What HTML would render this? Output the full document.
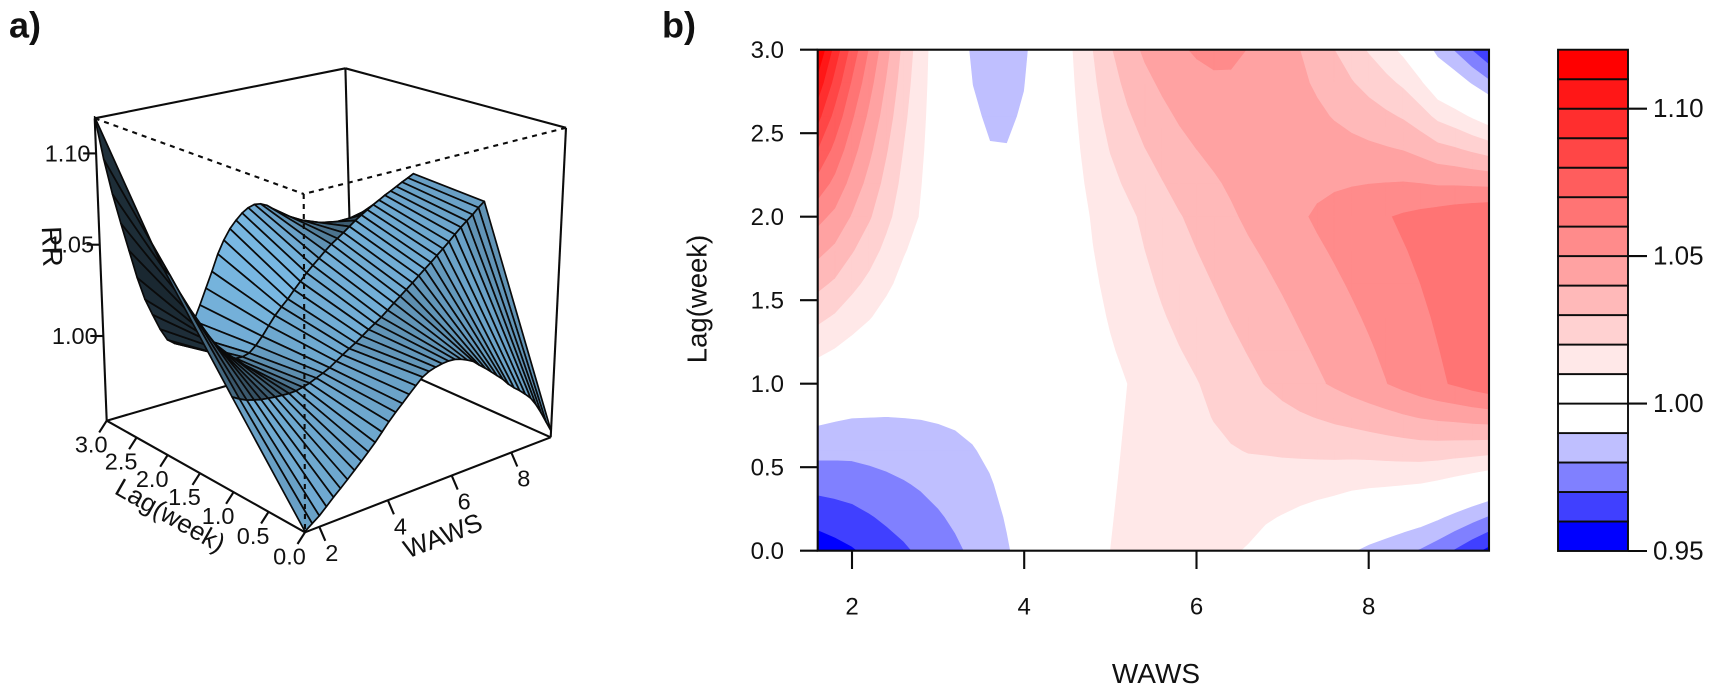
<!DOCTYPE html>
<html lang="en">
<head>
<meta charset="utf-8">
<title>RR surface and contour by WAWS and lag</title>
<style>
html,body{margin:0;padding:0;background:#fff;}
svg{display:block;}
text{font-family:"Liberation Sans",Arial,sans-serif;fill:#111;}
</style>
</head>
<body>
<svg id="figure" xmlns="http://www.w3.org/2000/svg" width="1713" height="690" viewBox="0 0 1713 690">
  <rect width="1713" height="690" fill="#fff"/>
  <defs>
    <clipPath id="plot-clip"><rect x="817.7" y="49.7" width="671.3" height="501"/></clipPath>
  </defs>
  <text x="9" y="37.5" font-size="36" font-weight="700">a)</text>
  <text x="662" y="37.5" font-size="36" font-weight="700">b)</text>
  <g id="persp"></g>
  <g id="contour"></g>
  <g id="legend"></g>
</svg>
<script>
// ---- data ----
const wawsGrid = [1.6,1.8,2.0,2.2,2.4,2.6,2.8,3.0,3.2,3.4,3.6,3.8,4.0,4.2,4.4,4.6,4.8,5.0,5.2,5.4,5.6,5.8,6.0,6.2,6.4,6.6,6.8,7.0,7.2,7.4,7.6,7.8,8.0,8.2,8.4,8.6,8.8,9.0,9.2,9.4];
const lagGrid = [0,1,2,3];
const rrLag0 = [0.954,0.9565,0.959,0.9622,0.9655,0.9685,0.9717,0.975,0.9783,0.9817,0.9852,0.9892,0.9932,0.9968,1.0,1.0035,1.0068,1.01,1.0118,1.0128,1.0135,1.0138,1.0135,1.0125,1.011,1.0092,1.0062,1.0035,1.0005,0.9975,0.9945,0.9908,0.9878,0.9852,0.9822,0.979,0.9745,0.969,0.963,0.957];
const rrLag1 = [1.002,0.9998,0.998,0.997,0.996,0.9955,0.995,0.9947,0.9945,0.9947,0.9955,0.9965,0.998,0.9995,1.0012,1.0035,1.0058,1.008,1.01,1.0125,1.015,1.0172,1.0195,1.0222,1.025,1.0277,1.0303,1.033,1.0358,1.0385,1.0412,1.044,1.0468,1.0497,1.0528,1.0558,1.0585,1.061,1.064,1.0666];
const rrLag2 = [1.053,1.0475,1.039,1.031,1.0225,1.0145,1.0092,1.0048,1.0002,0.9955,0.9937,0.9935,0.9945,0.9975,1.0015,1.0062,1.0108,1.0145,1.0178,1.0218,1.0255,1.0293,1.0325,1.0355,1.0387,1.0415,1.0438,1.0462,1.0487,1.0512,1.0534,1.0555,1.0575,1.0593,1.0612,1.0628,1.0645,1.0662,1.0678,1.0694];
const rrLag3 = [1.12,1.096,1.076,1.059,1.043,1.027,1.014,1.0045,0.9955,0.9885,0.9855,0.9855,0.9885,0.995,1.003,1.0115,1.02,1.029,1.036,1.0415,1.0455,1.0488,1.051,1.052,1.0515,1.0498,1.047,1.0435,1.04,1.0355,1.03,1.0245,1.019,1.0135,1.0075,0.9985,0.9865,0.979,0.9695,0.96];
const wawsTicks = [2,4,6,8];
const lagTicks = [0,0.5,1,1.5,2,2.5,3];
const rrTicks = [1.00,1.05,1.10];
const legendTicks = [0.95,1.00,1.05,1.10];
const legendLevels = [0.95,0.96,0.97,0.98,0.99,1.00,1.01,1.02,1.03,1.04,1.05,1.06,1.07,1.08,1.09,1.10,1.11,1.12];

// ---- helpers ----
const SVGNS = 'http://www.w3.org/2000/svg';
const rows = [rrLag0, rrLag1, rrLag2, rrLag3];
const DARK = '#0c0c0c';
const AXIS_W = 2.1;
function make(tag, parent, attrs, text) {
  const el = document.createElementNS(SVGNS, tag);
  for (const k in attrs) el.setAttribute(k, attrs[k]);
  if (text !== undefined) el.textContent = text;
  parent.appendChild(el);
  return el;
}
function bandColor(lo) {
  const idx = Math.round((lo - 0.95) * 100);
  if (idx < 4) { const g = Math.round(idx * 255 / 4); return 'rgb(' + g + ',' + g + ',255)'; }
  if (idx < 6) return '#ffffff';
  const g = Math.round(255 * (1 - (idx - 5) / 11));
  return 'rgb(255,' + g + ',' + g + ')';
}

// ---- panel a: perspective surface ----
const persp = document.getElementById('persp');
const zMin = 0.9536, zMax = 1.1192;
const cornerBot = {F:[305,532.3], R:[550.7,437.3], L:[106.7,420.7], B:[353,349]};
const cornerTop = {F:[303.7,194], R:[566,127.8], L:[94.7,118.3], B:[345.4,68.3]};
function foreshorten(u, s) { return u * s / (1 - u + u * s); }
function project(waws, lag, rr) {
  const u = foreshorten((waws - 1.6) / 7.8, 1.145);
  const v = foreshorten(lag / 3, 1.125);
  const w = (rr - zMin) / (zMax - zMin);
  const mix = (c, i) => (1-u)*(1-v)*c.F[i] + u*(1-v)*c.R[i] + (1-u)*v*c.L[i] + u*v*c.B[i];
  return [mix(cornerBot,0)*(1-w) + mix(cornerTop,0)*w, mix(cornerBot,1)*(1-w) + mix(cornerTop,1)*w];
}
function boxLine(a, b, name, dashed) {
  const el = make('line', persp, {x1:a[0].toFixed(1), y1:a[1].toFixed(1), x2:b[0].toFixed(1), y2:b[1].toFixed(1), stroke:DARK, 'stroke-width':AXIS_W});
  if (dashed) el.setAttribute('stroke-dasharray', '5 5');
  
  
}
const P = (x,l,z) => project(x,l,z);
boxLine(P(1.6,3,zMax), P(9.4,3,zMax), 'box-top-back-left', false);
boxLine(P(9.4,3,zMax), P(9.4,0,zMax), 'box-top-back-right', false);
boxLine(P(9.4,3,zMax), P(9.4,3,zMin), 'box-back-vertical', false);
boxLine(P(1.6,3,zMin), P(9.4,3,zMin), 'box-floor-back-left', false);
boxLine(P(9.4,0,zMin), P(9.4,3,zMin), 'box-floor-back-right', false);
boxLine(P(1.6,3,zMin), P(1.6,3,zMax), 'box-left-vertical', false);
boxLine(P(9.4,0,zMin), P(9.4,0,zMax), 'box-right-vertical', false);
boxLine(P(1.6,0,zMin), P(9.4,0,zMin), 'waws-axis-line', false);
boxLine(P(1.6,0,zMin), P(1.6,3,zMin), 'lag-axis-line', false);

// facets drawn from far corner to near corner
function facetFill(i, j) {
  const dx = wawsGrid[i+1] - wawsGrid[i];
  const gx = ((rows[j][i+1] + rows[j+1][i+1] - rows[j][i] - rows[j+1][i]) / 2 / dx) * 7.8 / (zMax - zMin);
  const gl = ((rows[j+1][i] + rows[j+1][i+1] - rows[j][i] - rows[j][i+1]) / 2) * 3 / (zMax - zMin);
  const len = Math.sqrt(gx*gx + gl*gl + 1);
  const d = (gx*0.72 + gl*0.6 + 0.34) / len;
  const b = Math.max(0.2, Math.min(1, Math.pow((1 + d) / 2, 1.15)));
  return 'rgb(' + Math.round(130*b) + ',' + Math.round(198*b) + ',' + Math.round(244*b) + ')';
}
const surface = make('g', persp, {});


for (let j = lagGrid.length - 2; j >= 0; j--) {
  for (let i = wawsGrid.length - 2; i >= 0; i--) {
    const pts = [
      project(wawsGrid[i], lagGrid[j], rows[j][i]),
      project(wawsGrid[i+1], lagGrid[j], rows[j][i+1]),
      project(wawsGrid[i+1], lagGrid[j+1], rows[j+1][i+1]),
      project(wawsGrid[i], lagGrid[j+1], rows[j+1][i])
    ];
    const facet = make('polygon', surface, {
      points: pts.map(p => p[0].toFixed(1) + ',' + p[1].toFixed(1)).join(' '),
      fill: facetFill(i, j), stroke: '#0a0a0a', 'stroke-width': 1.7, 'stroke-linejoin': 'round'
    });
    
    
  }
}
boxLine(P(1.6,3,zMax), P(1.6,0,zMax), 'box-front-left-dashed', true);
boxLine(P(9.4,0,zMax), P(1.6,0,zMax), 'box-front-right-dashed', true);
boxLine(P(1.6,0,zMax), P(1.6,0,zMin), 'box-front-vertical-dashed', true);

rrTicks.forEach(v => {
  const p = project(1.6, 3, v);
  const t = make('line', persp, {x1:(p[0]-13).toFixed(1), y1:p[1].toFixed(1), x2:p[0].toFixed(1), y2:p[1].toFixed(1), stroke:DARK, 'stroke-width':AXIS_W});
  
  
  const l = make('text', persp, {x:(p[0]-28.5).toFixed(1), y:(p[1]+8).toFixed(1), 'font-size':23.5, 'text-anchor':'middle'}, v.toFixed(2));
  
  
});
lagTicks.forEach(v => {
  const p = project(1.6, v, zMin);
  const t = make('line', persp, {x1:p[0].toFixed(1), y1:p[1].toFixed(1), x2:(p[0]-7.5).toFixed(1), y2:(p[1]+11.7).toFixed(1), stroke:DARK, 'stroke-width':AXIS_W});
  
  
  const l = make('text', persp, {x:(p[0]-15.5).toFixed(1), y:(p[1]+32).toFixed(1), 'font-size':23.5, 'text-anchor':'middle'}, v.toFixed(1));
  
  
});
wawsTicks.forEach(v => {
  const p = project(v, 0, zMin);
  const t = make('line', persp, {x1:p[0].toFixed(1), y1:p[1].toFixed(1), x2:(p[0]+6).toFixed(1), y2:(p[1]+14).toFixed(1), stroke:DARK, 'stroke-width':AXIS_W});
  
  
  const l = make('text', persp, {x:(p[0]+12.5).toFixed(1), y:(p[1]+34).toFixed(1), 'font-size':23.5, 'text-anchor':'middle'}, String(v));
  
  
});
const rrTitle = make('text', persp, {x:0, y:0, 'font-size':28, 'text-anchor':'middle', transform:'translate(42.5,247) rotate(87.7)'}, 'RR');


const lagTitle3d = make('text', persp, {x:0, y:0, 'font-size':26, 'text-anchor':'middle', transform:'translate(166,523) rotate(29.6)'}, 'Lag(week)');


const wawsTitle3d = make('text', persp, {x:0, y:0, 'font-size':26, 'text-anchor':'middle', transform:'translate(446,544) rotate(-21)'}, 'WAWS');



// ---- panel b: filled contour ----
const contour = document.getElementById('contour');
const xScale = v => 852 + (v - 2) * 86.12;
const yScale = v => 550.7 - v * 167;
function rrAt(i, lag) {
  const j = Math.min(Math.floor(lag), lagGrid.length - 2);
  const f = lag - lagGrid[j];
  return rows[j][i] * (1 - f) + rows[j+1][i] * f;
}
const SUB = 5;
function levelPath(level) {
  let d = '';
  const fmt = (x, l) => xScale(x).toFixed(1) + ' ' + yScale(l).toFixed(1);
  for (let s = 0; s < 3 * SUB; s++) {
    const l0 = s / SUB, l1 = (s + 1) / SUB;
    let run = -1;
    const flush = (end) => {
      if (run >= 0) {
        d += 'M' + fmt(wawsGrid[run], l0) + 'L' + fmt(wawsGrid[end], l0) + 'L' + fmt(wawsGrid[end], l1) + 'L' + fmt(wawsGrid[run], l1) + 'Z';
        run = -1;
      }
    };
    for (let i = 0; i < wawsGrid.length - 1; i++) {
      const c = [[wawsGrid[i], l0, rrAt(i, l0)], [wawsGrid[i+1], l0, rrAt(i+1, l0)], [wawsGrid[i+1], l1, rrAt(i+1, l1)], [wawsGrid[i], l1, rrAt(i, l1)]];
      const inside = c.filter(q => q[2] >= level).length;
      if (inside === 4) { if (run < 0) run = i; continue; }
      flush(i);
      if (inside === 0) continue;
      const poly = [];
      for (let k = 0; k < 4; k++) {
        const a = c[k], b = c[(k + 1) % 4];
        if (a[2] >= level) poly.push([a[0], a[1]]);
        if ((a[2] >= level) !== (b[2] >= level)) {
          const t = (level - a[2]) / (b[2] - a[2]);
          poly.push([a[0] + t * (b[0] - a[0]), a[1] + t * (b[1] - a[1])]);
        }
      }
      d += 'M' + poly.map(q => fmt(q[0], q[1])).join('L') + 'Z';
    }
    flush(wawsGrid.length - 1);
  }
  return d;
}
const bands = make('g', contour, {'clip-path':'url(#plot-clip)'});


const baseBand = make('rect', bands, {x:817.7, y:49.7, width:671.3, height:501, fill:bandColor(legendLevels[0])});


for (let k = 1; k < legendLevels.length - 1; k++) {
  const col = bandColor(legendLevels[k]);
  const d = levelPath(legendLevels[k]);
  if (!d) continue;
  const band = make('path', bands, {d:d, fill:col, stroke:col, 'stroke-width':0.7});
  
  
}
const frame = make('rect', contour, {x:817.7, y:49.7, width:671.3, height:501, fill:'none', stroke:DARK, 'stroke-width':AXIS_W});


wawsTicks.forEach(v => {
  const x = xScale(v);
  const t = make('line', contour, {x1:x.toFixed(1), y1:550.7, x2:x.toFixed(1), y2:569, stroke:DARK, 'stroke-width':AXIS_W});
  
  
  const l = make('text', contour, {x:x.toFixed(1), y:614.5, 'font-size':24, 'text-anchor':'middle'}, String(v));
  
  
});
lagTicks.forEach(v => {
  const y = yScale(v);
  const t = make('line', contour, {x1:800, y1:y.toFixed(1), x2:817.7, y2:y.toFixed(1), stroke:DARK, 'stroke-width':AXIS_W});
  
  
  const l = make('text', contour, {x:784, y:(y+8.3).toFixed(1), 'font-size':24, 'text-anchor':'end'}, v.toFixed(1));
  
  
});
const xTitle = make('text', contour, {x:1156, y:683, 'font-size':28, 'text-anchor':'middle'}, 'WAWS');


const yTitle = make('text', contour, {x:0, y:0, 'font-size':27.5, 'text-anchor':'middle', transform:'translate(706.5,299) rotate(-90)'}, 'Lag(week)');



// ---- legend ----
const legend = document.getElementById('legend');
const legendY = v => 551 - (v - 0.95) * (501.3 / 0.17);
for (let k = 0; k < legendLevels.length - 1; k++) {
  const top = legendY(legendLevels[k+1]), bot = legendY(legendLevels[k]);
  const swatch = make('rect', legend, {x:1558, y:top.toFixed(1), width:70, height:(bot-top).toFixed(1), fill:bandColor(legendLevels[k]), stroke:DARK, 'stroke-width':1.9});
  
  
}
legendTicks.forEach(v => {
  const y = legendY(v);
  const t = make('line', legend, {x1:1628, y1:y.toFixed(1), x2:1647, y2:y.toFixed(1), stroke:DARK, 'stroke-width':AXIS_W});
  
  
  const l = make('text', legend, {x:1653, y:(y+8.5).toFixed(1), 'font-size':26}, v.toFixed(2));
  
  
});
</script>
</body>
</html>
